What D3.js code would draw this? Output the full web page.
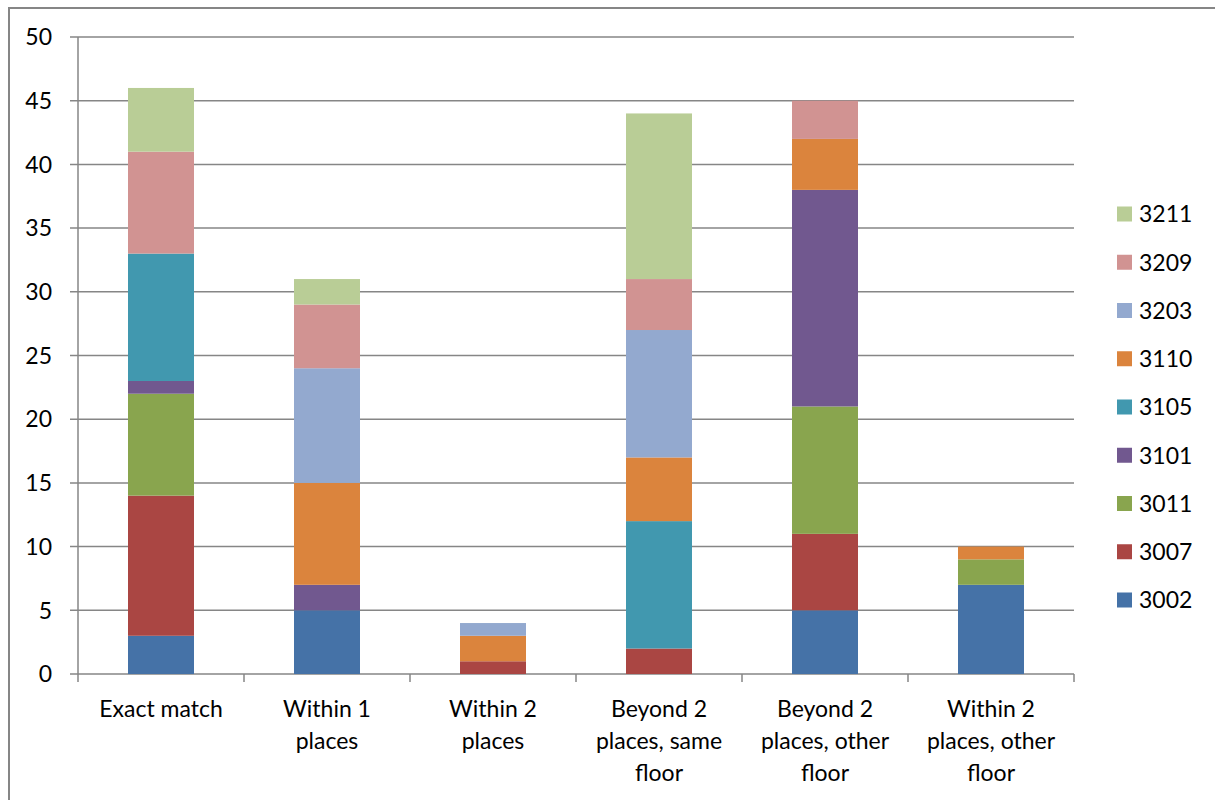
<!DOCTYPE html>
<html><head><meta charset="utf-8">
<script src="https://cdn.jsdelivr.net/npm/d3@7"></script>
<style>
html,body{margin:0;padding:0;background:#fff;}
svg{display:block;}
text{font-family:Lato,"Open Sans",sans-serif;fill:#000;}
</style></head>
<body>
<svg id="chart" width="1215" height="800"></svg>
<script>
const categories = [["Exact match"],["Within 1","places"],["Within 2","places"],["Beyond 2","places, same","floor"],["Beyond 2","places, other","floor"],["Within 2","places, other","floor"]];
const seriesNames = ["3002","3007","3011","3101","3105","3110","3203","3209","3211"];
const seriesColors = ["#4572A7","#AA4643","#89A54E","#71588F","#4198AF","#DB843D","#93A9CF","#D19392","#B9CD96"];
const v3002 = [3,5,0,0,5,7];
const v3007 = [11,0,1,2,6,0];
const v3011 = [8,0,0,0,10,2];
const v3101 = [1,2,0,0,17,0];
const v3105 = [10,0,0,10,0,0];
const v3110 = [0,8,2,5,4,1];
const v3203 = [0,9,1,10,0,0];
const v3209 = [8,5,0,4,3,0];
const v3211 = [5,2,0,13,0,0];
const yTicks = [0,5,10,15,20,25,30,35,40,45,50];

const seriesValues = [v3002,v3007,v3011,v3101,v3105,v3110,v3203,v3209,v3211];
const rows = categories.map((c,i)=>{const r={idx:i}; seriesNames.forEach((s,j)=>r[s]=seriesValues[j][i]); return r;});
const stacked = d3.stack().keys(seriesNames)(rows);

const svg = d3.select("#chart");
const pL=78,pR=1074,pT=37,pB=674;
const x = d3.scaleBand().domain(d3.range(categories.length)).range([pL,pR]).paddingInner(0).paddingOuter(0);
const y = d3.scaleLinear().domain([0,50]).range([pB,pT]);
const barW = 66;
const fs = 23;

// outer border
svg.append("rect").attr("x",9).attr("y",8).attr("width",1300).attr("height",900)
  .attr("fill","none").attr("stroke","#868686").attr("stroke-width",2);

// gridlines
svg.append("g").selectAll("line").data(yTicks).join("line")
  .attr("x1",pL-8).attr("x2",pR).attr("y1",d=>y(d)).attr("y2",d=>y(d))
  .attr("stroke","#868686").attr("stroke-width",1.5);

// y labels
svg.append("g").selectAll("text").data(yTicks).join("text")
  .attr("x",52).attr("y",d=>y(d)).attr("dy","0.36em").attr("text-anchor","end")
  .attr("font-size",fs).text(d=>d);

// bars
svg.append("g").selectAll("g").data(stacked).join("g")
  .attr("fill",(d,i)=>seriesColors[i])
  .selectAll("rect").data(d=>d.filter(s=>s[1]-s[0]>0)).join("rect")
  .attr("x",d=>x(d.data.idx)+x.bandwidth()/2-barW/2).attr("width",barW)
  .attr("y",d=>y(d[1])).attr("height",d=>y(d[0])-y(d[1]));

// y axis line
svg.append("line").attr("x1",pL).attr("x2",pL).attr("y1",pT).attr("y2",pB)
  .attr("stroke","#868686").attr("stroke-width",1.5);
// x axis ticks
svg.append("g").selectAll("line").data(d3.range(categories.length+1)).join("line")
  .attr("x1",d=>pL+d*x.bandwidth()).attr("x2",d=>pL+d*x.bandwidth())
  .attr("y1",pB).attr("y2",pB+8)
  .attr("stroke","#868686").attr("stroke-width",1.5);

// x labels
const xl = svg.append("g").selectAll("text").data(categories).join("text")
  .attr("text-anchor","middle").attr("font-size",fs)
  .attr("transform",(d,i)=>`translate(${x(i)+x.bandwidth()/2},717)`);
xl.selectAll("tspan").data(d=>d).join("tspan")
  .attr("x",0).attr("y",(d,i)=>i*32).text(d=>d);

// legend
const leg = svg.append("g").selectAll("g").data(seriesNames.slice().reverse()).join("g")
  .attr("transform",(d,i)=>`translate(1117,${214+i*48.25})`);
leg.append("rect").attr("x",0).attr("y",-7.5).attr("width",15).attr("height",15)
  .attr("fill",d=>seriesColors[seriesNames.indexOf(d)]);
leg.append("text").attr("x",22).attr("y",0).attr("dy","0.36em").attr("font-size",fs).text(d=>d);
</script>
</body></html>
